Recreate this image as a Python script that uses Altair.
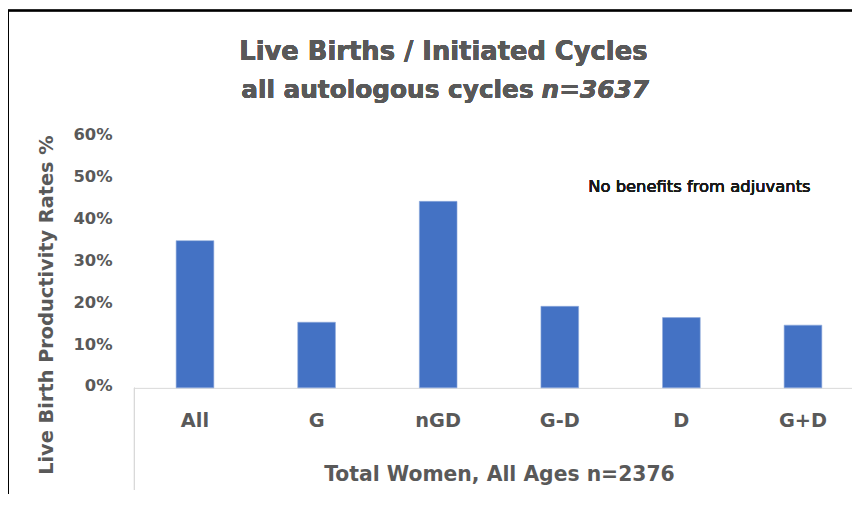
import altair as alt
import pandas as pd

categories = ["All", "G", "nGD", "G-D", "D", "G+D"]
rates = [0.352, 0.157, 0.446, 0.195, 0.168, 0.150]
y_ticks = [0.0, 0.1, 0.2, 0.3, 0.4, 0.5, 0.6]

title_line1 = "Live Births / Initiated Cycles"
title_line2a = "all autologous cycles"
title_line2b = "n=3637"
x_title = "Total Women, All Ages n=2376"
y_title = "Live Birth Productivity Rates %"
note = "No benefits from adjuvants"

FONT = "DejaVu Sans"
GRAY = "#595959"
W, H = 724, 253

df = pd.DataFrame({"cat": categories, "rate": rates})

bars = alt.Chart(df).mark_bar(color="#4472C4", stroke="#8FAADC", strokeWidth=0.6).encode(
    x=alt.X("cat:N", sort=categories,
            scale=alt.Scale(paddingInner=0.69, paddingOuter=0.2975, align=0.583),
            axis=alt.Axis(title=x_title, labelAngle=0, ticks=False, domainColor="#D9D9D9",
                          domainWidth=1, labelFont=FONT, labelFontSize=19.5, labelFontWeight="bold",
                          labelColor=GRAY, labelPadding=33, labelBaseline="middle",
                          titleFont=FONT, titleFontSize=20.5, titleFontWeight="bold",
                          titleColor=GRAY, titleY=87, titleX=368, titleBaseline="middle")),
    y=alt.Y("rate:Q", scale=alt.Scale(domain=[0, 0.6], nice=False),
            axis=alt.Axis(title=y_title, values=y_ticks, format=".0%", grid=False, ticks=False,
                          domain=False, labelFont=FONT, labelFontSize=16.5, labelFontWeight="bold",
                          labelColor=GRAY, labelPadding=22, labelOffset=-2,
                          titleFont=FONT, titleFontSize=19.5, titleFontWeight="bold",
                          titleColor=GRAY, titleX=-88, titleY=169, titleBaseline="middle",
                          titleAlign="center", titleAngle=270)),
)

box_line = alt.Chart(df).mark_rule(color="#D9D9D9", strokeWidth=1).encode(
    x=alt.value(0.5), y=alt.value(H), y2=alt.value(356))

border_left = alt.Chart(df).mark_rule(color="#000000", strokeWidth=1.5).encode(
    x=alt.value(-127), y=alt.value(-128), y2=alt.value(380))
border_top = alt.Chart(df).mark_rule(color="#000000", strokeWidth=1.5).encode(
    x=alt.value(-127), x2=alt.value(W + 5), y=alt.value(-127.5))

t1 = alt.Chart(df).mark_text(text=title_line1, font=FONT, fontSize=26, fontWeight="bold",
                             color=GRAY, align="center", baseline="alphabetic").encode(
    x=alt.value(312), y=alt.value(-78))
t2a = alt.Chart(df).mark_text(text=title_line2a, font=FONT, fontSize=25, fontWeight="bold",
                              color=GRAY, align="right", baseline="alphabetic").encode(
    x=alt.value(403), y=alt.value(-39))
t2b = alt.Chart(df).mark_text(text=title_line2b, font=FONT, fontSize=25, fontWeight="bold",
                              fontStyle="italic", color=GRAY, align="left",
                              baseline="alphabetic").encode(
    x=alt.value(411), y=alt.value(-39))
t_note = alt.Chart(df).mark_text(text=note, font=FONT, fontSize=16.5, color="#1a1a1a",
                                 align="left", baseline="middle").encode(
    x=alt.value(458), y=alt.value(51))

chart = alt.layer(bars, box_line, border_left, border_top, t1, t2a, t2b, t_note).properties(
    width=W, height=H,
    autosize=alt.AutoSizeParams(type="none"),
    padding={"left": 127, "top": 128, "right": 0, "bottom": 105},
).configure_view(stroke=None)

chart.save("out.html", embed_options={"renderer": "svg", "actions": False})
